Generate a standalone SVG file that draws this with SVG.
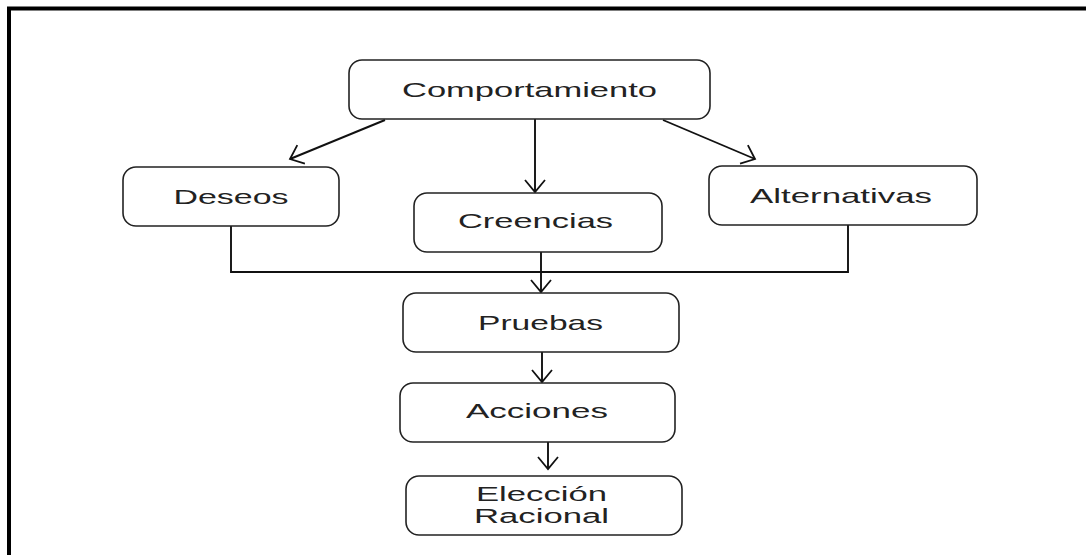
<svg xmlns="http://www.w3.org/2000/svg" width="1086" height="555" viewBox="0 0 1086 555">
<defs>
<marker id="arr" markerUnits="userSpaceOnUse" markerWidth="16" markerHeight="24" refX="13" refY="11" orient="auto">
<path d="M1,1 L13,11 L1,21" fill="none" stroke="#111" stroke-width="1.8"/>
</marker>
<style>
.box{fill:#fff;stroke:#222;stroke-width:1.6}
.t{font-family:"Liberation Sans",Arial,sans-serif;font-size:21px;fill:#222;text-anchor:middle}
.s{font-size:20px}
.c{fill:none;stroke:#111;stroke-width:1.9}
</style>
</defs>
<rect width="1086" height="555" fill="#fff"/>
<path d="M9,560 V8.5 H1090" fill="none" stroke="#000" stroke-width="4"/>
<g id="connectors">
<line class="c" x1="535" y1="119" x2="535" y2="192" marker-end="url(#arr)"/>
<line class="c" x1="385" y1="120" x2="290" y2="159" marker-end="url(#arr)"/>
<line class="c" x1="663" y1="120" x2="755" y2="159" marker-end="url(#arr)"/>
<polyline class="c" points="231,226 231,272 848,272 848,225"/>
<line class="c" x1="541" y1="252" x2="541" y2="292" marker-end="url(#arr)"/>
<line class="c" x1="542" y1="352" x2="542" y2="382" marker-end="url(#arr)"/>
<line class="c" x1="548" y1="442" x2="548" y2="469" marker-end="url(#arr)"/>
</g>
<g id="comportamiento">
<rect class="box" x="349" y="60" width="361" height="59" rx="13"/>
<text class="t" x="529.5" y="97" textLength="255" lengthAdjust="spacingAndGlyphs">Comportamiento</text>
</g>
<g id="deseos">
<rect class="box" x="123" y="167" width="216" height="59" rx="13"/>
<text class="t" x="231" y="204" textLength="115" lengthAdjust="spacingAndGlyphs">Deseos</text>
</g>
<g id="creencias">
<rect class="box" x="414" y="193" width="248" height="59" rx="13"/>
<text class="t" x="535.5" y="228" textLength="155" lengthAdjust="spacingAndGlyphs">Creencias</text>
</g>
<g id="alternativas">
<rect class="box" x="709" y="166" width="268" height="59" rx="13"/>
<text class="t" x="841" y="203" textLength="182" lengthAdjust="spacingAndGlyphs">Alternativas</text>
</g>
<g id="pruebas">
<rect class="box" x="403" y="293" width="276" height="59" rx="13"/>
<text class="t" x="540.5" y="330" textLength="125" lengthAdjust="spacingAndGlyphs">Pruebas</text>
</g>
<g id="acciones">
<rect class="box" x="400" y="383" width="275" height="59" rx="13"/>
<text class="t" x="537" y="418" textLength="142" lengthAdjust="spacingAndGlyphs">Acciones</text>
</g>
<g id="eleccion">
<rect class="box" x="406" y="476" width="276" height="59" rx="13"/>
<text class="t s" x="541.5" y="501" textLength="131" lengthAdjust="spacingAndGlyphs">Elección</text>
<text class="t s" x="541.5" y="523" textLength="135" lengthAdjust="spacingAndGlyphs">Racional</text>
</g>
</svg>
